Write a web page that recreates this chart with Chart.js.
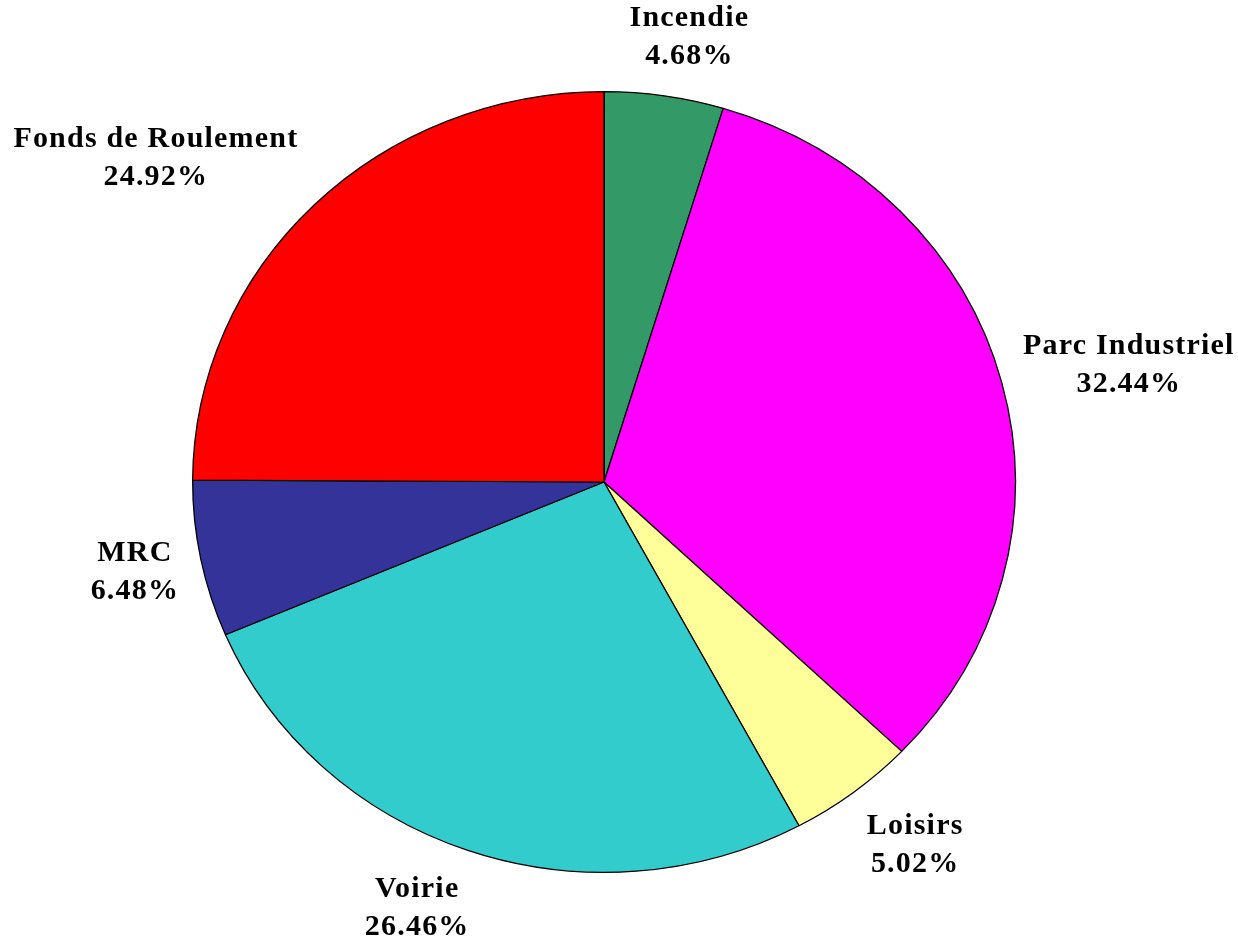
<!DOCTYPE html>
<html>
<head>
<meta charset="utf-8">
<script src="https://cdn.jsdelivr.net/npm/chart.js@4.4.1/dist/chart.umd.min.js"></script>
<style>
  html, body { margin: 0; padding: 0; background: #fff; }
  #wrap { width: 1238px; height: 945px; position: relative; }
</style>
</head>
<body>
<div id="wrap"><canvas id="pie"></canvas></div>
<script>
const labels = ["Incendie", "Parc Industriel", "Loisirs", "Voirie", "MRC", "Fonds de Roulement"];
const shares = [4.68, 32.44, 5.02, 26.46, 6.48, 24.92];
const colors = ["#339966", "#FF00FF", "#FFFF99", "#33CCCC", "#333399", "#FF0000"];

// pie in the picture is a bit flatter than a circle
const Y_SQUASH = 391 / 412;

// squash the arcs vertically around the pie centre
const flatten = {
  id: "flatten",
  beforeDatasetsDraw(chart) {
    const arc = chart.getDatasetMeta(0).data[0];
    const ctx = chart.ctx;
    ctx.save();
    ctx.translate(0, arc.y);
    ctx.scale(1, Y_SQUASH);
    ctx.translate(0, -arc.y);
  },
  afterDatasetsDraw(chart) {
    chart.ctx.restore();
  },
};

// outside labels, name + percent, pushed away from the slice mid angle
const outsideLabels = {
  id: "outsideLabels",
  afterDraw(chart) {
    const ctx = chart.ctx;
    const meta = chart.getDatasetMeta(0);
    const lineH = 38;
    ctx.save();
    ctx.font = "bold 30px 'Liberation Serif', 'Times New Roman', serif";
    ctx.letterSpacing = "1.2px";
    ctx.fillStyle = "#000";
    ctx.textAlign = "center";
    ctx.textBaseline = "middle";
    meta.data.forEach((arc, i) => {
      const mid = (arc.startAngle + arc.endAngle) / 2;
      const dx = Math.cos(mid), dy = Math.sin(mid);
      const r = arc.outerRadius + 22;
      const px = arc.x + r * dx;
      const py = arc.y + r * Y_SQUASH * dy;
      const lines = [labels[i], shares[i].toFixed(2) + "%"];
      const w = Math.max(...lines.map((t) => ctx.measureText(t).width));
      const h = lineH * 2;
      const cx = px + (w / 2) * Math.max(-1, Math.min(1, dx * 2.5));
      const cy = py + (h / 2) * Math.max(-1, Math.min(1, dy * 1.2));
      ctx.fillText(lines[0], cx, cy - lineH / 2);
      ctx.fillText(lines[1], cx, cy + lineH / 2);
    });
    ctx.restore();
  },
};

new Chart(document.getElementById("pie"), {
  type: "pie",
  data: {
    labels,
    datasets: [
      {
        data: shares,
        backgroundColor: colors,
        borderColor: "#000",
        borderWidth: 1.3,
      },
    ],
  },
  options: {
    responsive: true,
    maintainAspectRatio: false,
    animation: false,
    layout: { padding: { left: 192, right: 222, top: 70, bottom: 51 } },
    plugins: {
      legend: { display: false },
      tooltip: { enabled: false },
    },
  },
  plugins: [flatten, outsideLabels],
});
</script>
</body>
</html>
